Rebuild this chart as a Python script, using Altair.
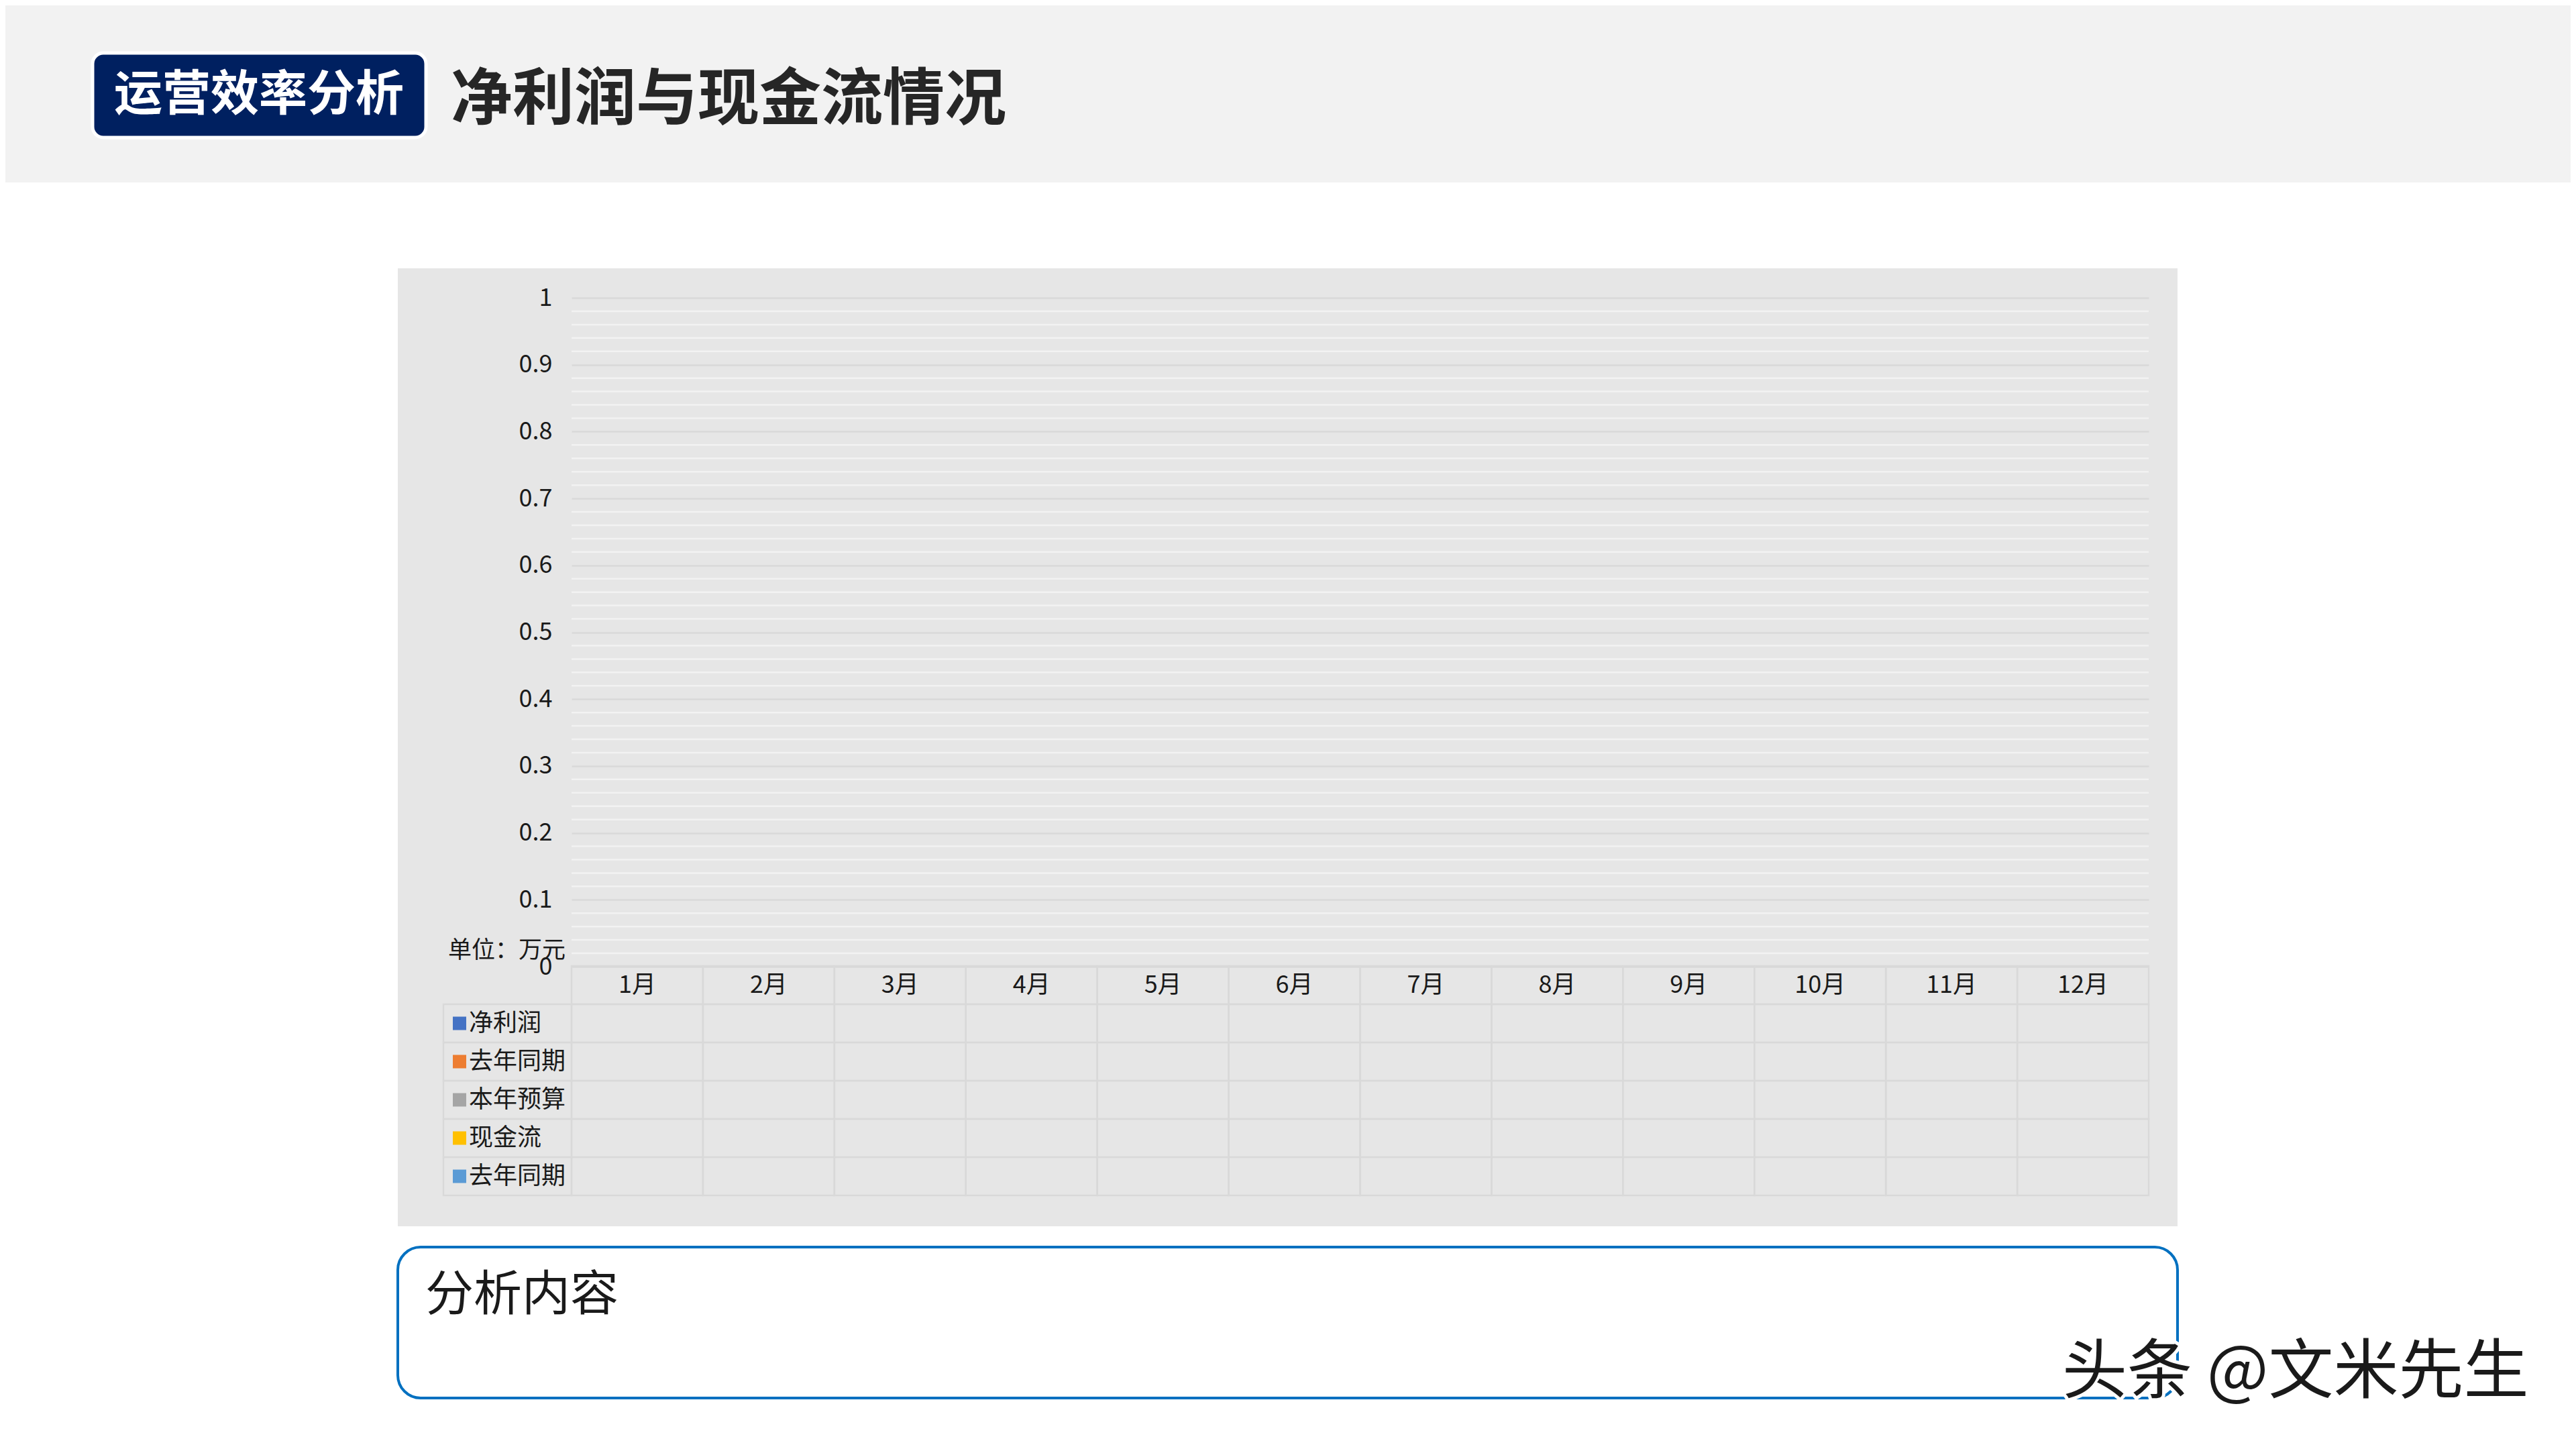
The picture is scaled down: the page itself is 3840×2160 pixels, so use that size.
import altair as alt
import pandas as pd

# ---------------- data ----------------
months = ["1月", "2月", "3月", "4月", "5月", "6月", "7月", "8月", "9月", "10月", "11月", "12月"]
series_names = ["净利润", "去年同期", "本年预算", "现金流", "去年同期"]
series_keys = ["s0", "s1", "s2", "s3", "s4"]
series_kind = ["bar", "bar", "bar", "line", "line"]
palette = ["#4472c4", "#ed7d31", "#a5a5a5", "#ffc000", "#5b9bd5"]

# the chart is an empty template: no values are filled in
net_profit = [None, None, None, None, None, None, None, None, None, None, None, None]
profit_last_year = [None, None, None, None, None, None, None, None, None, None, None, None]
budget = [None, None, None, None, None, None, None, None, None, None, None, None]
cash_flow = [None, None, None, None, None, None, None, None, None, None, None, None]
cash_last_year = [None, None, None, None, None, None, None, None, None, None, None, None]
series_values = [net_profit, profit_last_year, budget, cash_flow, cash_last_year]

y_ticks = [0, 0.1, 0.2, 0.3, 0.4, 0.5, 0.6, 0.7, 0.8, 0.9, 1]
y_minor = [0.02, 0.04, 0.06, 0.08, 0.12, 0.14, 0.16, 0.18, 0.22, 0.24, 0.26, 0.28,
           0.32, 0.34, 0.36, 0.38, 0.42, 0.44, 0.46, 0.48, 0.52, 0.54, 0.56, 0.58,
           0.62, 0.64, 0.66, 0.68, 0.72, 0.74, 0.76, 0.78, 0.82, 0.84, 0.86, 0.88,
           0.92, 0.94, 0.96, 0.98]

unit_label = "单位：万元"
badge_text = "运营效率分析"
title_text = "净利润与现金流情况"
analysis_text = "分析内容"
watermark_text = "头条 @文米先生"

# ---------------- tables for the library ----------------
rows = []
for key, name, kind, vals in zip(series_keys, series_names, series_kind, series_values):
    for m, v in zip(months, vals):
        rows.append({"key": key, "name": name, "kind": kind, "month": m, "value": v})
long_df = pd.DataFrame(rows)
bar_df = long_df[long_df["kind"] == "bar"]
line_df = long_df[long_df["kind"] == "line"]

row_keys = ["h"] + series_keys
cells_df = pd.DataFrame([{"row": r, "month": m} for r in row_keys for m in months])
header_df = pd.DataFrame({"month": months, "row": ["h"] * len(months)})
legend_df = pd.DataFrame({"key": series_keys, "name": series_names})
minor_df = pd.DataFrame({"v": y_minor})

FONT = "Noto Sans CJK SC"
W, H = 2351, 997
BOX = "#e6e6e6"
LINE = "#d9d9d9"
TXT = "#1a1a1a"

x_scale = alt.Scale(domain=months, paddingInner=0, paddingOuter=0)
y_scale = alt.Scale(domain=[0, 1], nice=False, zero=True)
row_scale = alt.Scale(domain=row_keys, range=[996, 1338], paddingInner=0, paddingOuter=0)
color_scale = alt.Scale(domain=series_keys, range=palette)

y_axis = alt.Axis(values=y_ticks, format="~g", grid=True, gridColor=LINE, gridWidth=2.5,
                  domain=False, ticks=False, tickSize=0, labelFontSize=36, labelFont=FONT,
                  labelColor=TXT, labelPadding=29, title=None, zindex=1)

one = pd.DataFrame({"k": [0]})


def deco_rect(x, x2, y, y2, **kw):
    return alt.Chart(one).mark_rect(**kw).encode(
        x=alt.value(x), x2=alt.value(x2), y=alt.value(y), y2=alt.value(y2))


def deco_text(txt, x, y, **kw):
    return alt.Chart(pd.DataFrame({"t": [txt]})).mark_text(font=FONT, **kw).encode(
        x=alt.value(x), y=alt.value(y), text="t:N")


# ---------------- decorations ----------------
header_band = deco_rect(-852, 2988, -444, -172, fill="#f2f2f2")
badge = deco_rect(-714, -217, -365, -239, fill="#002060", stroke="white", strokeWidth=5,
                  cornerRadius=16)
badge_lbl = deco_text(badge_text, -466, -302, fontSize=72, fontWeight="bold", color="white",
                      align="center", baseline="middle")
title_lbl = deco_text(title_text, -180, -294, fontSize=92, fontWeight="bold", color="#262626",
                      align="left", baseline="middle")
gray_box = deco_rect(-259, 2394, -44, 1384, fill=BOX)
analysis_box = deco_rect(-259, 2394, 1415, 1640, fill="white", stroke="#0070c0",
                         strokeWidth=4, cornerRadius=34)
analysis_lbl = deco_text(analysis_text, -218, 1487, fontSize=72, color=TXT, align="left",
                         baseline="middle")
unit_lbl = deco_text(unit_label, -184, 973, fontSize=35, color=TXT, align="left",
                     baseline="middle")
wm_outline = deco_text(watermark_text, 2222, 1603, fontSize=97, color="white", stroke="white",
                       strokeWidth=10, align="left", baseline="middle")
wm_text = deco_text(watermark_text, 2222, 1603, fontSize=97, color=TXT, align="left",
                    baseline="middle")

# ---------------- plot (empty combo chart) ----------------
minor_rules = alt.Chart(minor_df).mark_rule(color="#f2f2f2", strokeWidth=2.5).encode(
    y=alt.Y("v:Q", scale=y_scale, axis=y_axis),
    x=alt.value(0), x2=alt.value(W))
bars = alt.Chart(bar_df).mark_bar().encode(
    x=alt.X("month:N", scale=x_scale, axis=None),
    xOffset=alt.XOffset("key:N", scale=alt.Scale(domain=series_keys[:3])),
    y=alt.Y("value:Q", scale=y_scale, axis=y_axis),
    color=alt.Color("key:N", scale=color_scale, legend=None))
lines = alt.Chart(line_df).mark_line(strokeWidth=4).encode(
    x=alt.X("month:N", scale=x_scale, axis=None),
    y=alt.Y("value:Q", scale=y_scale, axis=y_axis),
    color=alt.Color("key:N", scale=color_scale, legend=None))
plot_group = alt.layer(minor_rules, bars, lines)

# ---------------- data table under the plot ----------------
cells = alt.Chart(cells_df).mark_rect(fill="transparent", stroke=LINE, strokeWidth=2.5).encode(
    x=alt.X("month:N", scale=x_scale, axis=None),
    y=alt.Y("row:N", scale=row_scale, axis=None))
header_txt = alt.Chart(header_df).mark_text(font=FONT, fontSize=36, color=TXT,
                                             baseline="middle").encode(
    x=alt.X("month:N", scale=x_scale, axis=None),
    y=alt.Y("row:N", scale=row_scale, axis=None),
    text="month:N")
legend_cells = alt.Chart(legend_df).mark_rect(fill="transparent", stroke=LINE,
                                              strokeWidth=2.5).encode(
    x=alt.value(-191), x2=alt.value(0),
    y=alt.Y("key:N", scale=row_scale, axis=None))
legend_sq = alt.Chart(legend_df).mark_square(size=400, opacity=1).encode(
    x=alt.value(-167),
    y=alt.Y("key:N", scale=row_scale, axis=None),
    color=alt.Color("key:N", scale=color_scale, legend=None))
legend_txt = alt.Chart(legend_df).mark_text(font=FONT, fontSize=36, color=TXT, align="left",
                                            baseline="middle").encode(
    x=alt.value(-153),
    y=alt.Y("key:N", scale=row_scale, axis=None),
    text="name:N")
table_group = alt.layer(cells, header_txt, legend_cells, legend_sq, legend_txt)

chart = alt.layer(
    header_band, badge, badge_lbl, title_lbl, gray_box, analysis_box, analysis_lbl,
    plot_group, table_group, unit_lbl, wm_outline, wm_text
).resolve_scale(y="independent").properties(
    width=W, height=H,
    padding={"left": 844, "top": 436, "right": 629, "bottom": 711},
    autosize=alt.AutoSizeParams(type="none"),
    background="white",
).configure_view(strokeWidth=0)

chart.save("out.html", embed_options={"renderer": "svg", "actions": False})
